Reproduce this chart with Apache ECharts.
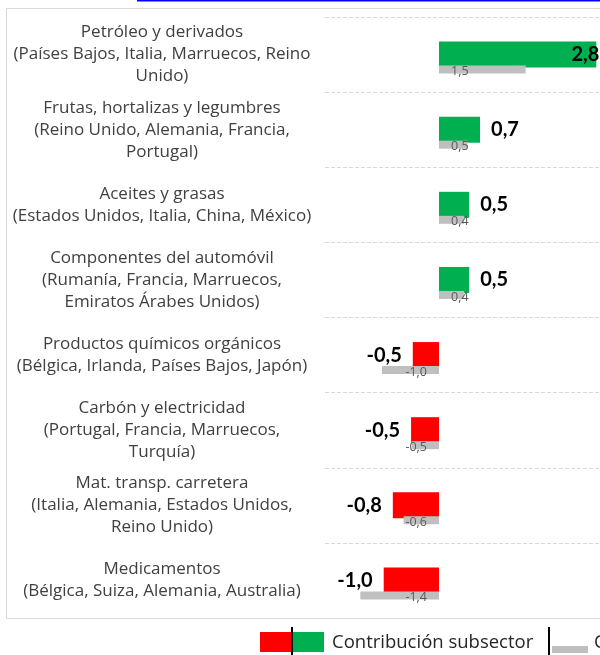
<!DOCTYPE html>
<html>
<head>
<meta charset="utf-8">
<script src="https://cdn.jsdelivr.net/npm/echarts@6/dist/echarts.min.js"></script>
<style>
    html, body {
        margin: 0;
        padding: 0;
        background: #fff;
        overflow: hidden;
    }
    #chart {
        width: 600px;
        height: 655px;
    }
</style>
</head>
<body>
<div id="chart"></div>
<script>
// subsectores (de arriba a abajo)
var categories = [
    'Petróleo y derivados\n(Países Bajos, Italia, Marruecos, Reino\nUnido)',
    'Frutas, hortalizas y legumbres\n(Reino Unido, Alemania, Francia,\nPortugal)',
    'Aceites y grasas\n(Estados Unidos, Italia, China, México)',
    'Componentes del automóvil\n(Rumanía, Francia, Marruecos,\nEmiratos Árabes Unidos)',
    'Productos químicos orgánicos\n(Bélgica, Irlanda, Países Bajos, Japón)',
    'Carbón y electricidad\n(Portugal, Francia, Marruecos,\nTurquía)',
    'Mat. transp. carretera\n(Italia, Alemania, Estados Unidos,\nReino Unido)',
    'Medicamentos\n(Bélgica, Suiza, Alemania, Australia)'
];
// contribución del subsector
var contribucion = [2.76, 0.72, 0.53, 0.53, -0.46, -0.49, -0.81, -0.97];
// contribución mismo periodo año anterior
var anterior = [1.52, 0.5, 0.44, 0.44, -1.0, -0.48, -0.62, -1.38];

var legendText1 = 'Contribución subsector';
var legendText2 = 'Contribución mismo periodo año anterior';

function fmt(v) {
    return v.toFixed(1).replace('.', ',');
}

var chart = echarts.init(document.getElementById('chart'));

var mainData = contribucion.map(function (v) {
    // la barra más larga lleva la etiqueta dentro (no cabe fuera)
    var lbl = v > 2 ? { position: 'insideRight', offset: [14, 0] } : { position: v >= 0 ? 'right' : 'left' };
    return {
        value: v,
        itemStyle: { color: v >= 0 ? '#00B050' : '#FF0000' },
        label: lbl
    };
});
var prevData = anterior.map(function (v) {
    return {
        value: v,
        label: { position: v >= 0 ? 'insideLeft' : 'insideRight' }
    };
});

var option = {
    animation: false,
    grid: [
        { left: 325, width: 285, top: 17, height: 601, outerBoundsMode: 'none' },
        // barras grises un poco desplazadas hacia abajo
        { left: 325, width: 285, top: 32, height: 601, outerBoundsMode: 'none' }
    ],
    xAxis: [
        { gridIndex: 0, type: 'value', min: -2, max: 3, show: false },
        { gridIndex: 1, type: 'value', min: -2, max: 3, show: false }
    ],
    yAxis: [
        {
            gridIndex: 0,
            type: 'category',
            data: categories,
            inverse: true,
            axisLine: { show: false },
            axisTick: { show: false },
            splitLine: { show: true, lineStyle: { color: '#d9d9d9', type: [4, 2] } },
            axisLabel: {
                align: 'center',
                margin: 163,
                fontFamily: 'Open Sans',
                fontSize: 17,
                lineHeight: 22,
                color: '#404040'
            }
        },
        {
            gridIndex: 1,
            type: 'category',
            data: categories,
            inverse: true,
            show: false
        }
    ],
    series: [
        {
            name: legendText1,
            type: 'bar',
            xAxisIndex: 0,
            yAxisIndex: 0,
            barWidth: 26,
            data: mainData,
            z: 2,
            label: {
                show: true,
                distance: 11,
                fontFamily: 'Lato',
                fontWeight: 'bold',
                fontSize: 20,
                color: '#000',
                formatter: function (p) { return fmt(p.value); }
            }
        },
        {
            name: legendText2,
            type: 'bar',
            xAxisIndex: 1,
            yAxisIndex: 1,
            barWidth: 8,
            data: prevData,
            z: 3,
            itemStyle: { color: '#BFBFBF' },
            label: {
                show: true,
                distance: 12,
                offset: [0, 2],
                fontFamily: 'Open Sans',
                fontSize: 12.5,
                color: '#595959',
                formatter: function (p) { return fmt(p.value); }
            }
        }
    ],
    graphic: [
        // enlace cortado arriba
        { type: 'rect', shape: { x: 137, y: 0, width: 470, height: 1.5 }, style: { fill: '#0000FF' } },
        // marco del gráfico
        { type: 'rect', shape: { x: 6.5, y: 8.5, width: 620, height: 610 }, style: { fill: 'none', stroke: '#d9d9d9', lineWidth: 1 }, z: 0 },
        // leyenda
        { type: 'rect', shape: { x: 260, y: 632, width: 32, height: 20 }, style: { fill: '#FF0000' } },
        { type: 'rect', shape: { x: 292, y: 632, width: 32, height: 20 }, style: { fill: '#00B050' } },
        { type: 'rect', shape: { x: 291, y: 627, width: 2, height: 28 }, style: { fill: '#000' } },
        { type: 'text', x: 332, y: 643, style: { text: legendText1, font: '18.5px "Open Sans"', fill: '#262626', verticalAlign: 'middle' } },
        { type: 'rect', shape: { x: 548, y: 627, width: 2, height: 28 }, style: { fill: '#000' } },
        { type: 'rect', shape: { x: 552, y: 646, width: 36, height: 7 }, style: { fill: '#BFBFBF' } },
        { type: 'text', x: 594, y: 643, style: { text: legendText2, font: '18.5px "Open Sans"', fill: '#262626', verticalAlign: 'middle' } }
    ]
};

chart.setOption(option);
</script>
</body>
</html>
